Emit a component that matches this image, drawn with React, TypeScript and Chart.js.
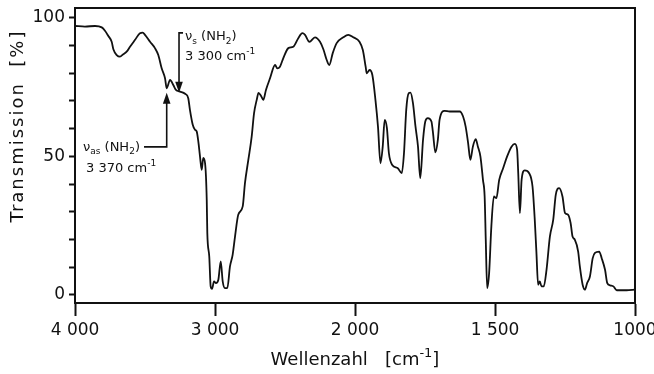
import React, { useEffect, useRef } from 'react';
import { Chart, registerables, LinearScale } from 'chart.js';

Chart.register(...registerables);

// ---- data ----
const WAVENUMBERS = [
  4000, 3929, 3857, 3809, 3786, 3762, 3738, 3726, 3702, 3679,
  3655, 3631, 3607, 3571, 3536, 3516, 3500, 3464, 3429, 3405,
  3381, 3357, 3345, 3321, 3298, 3279, 3250, 3214, 3191, 3179,
  3159, 3143, 3131, 3119, 3107, 3095, 3084, 3071, 3059, 3055,
  3041, 3031, 3021, 3007, 2993, 2976, 2959, 2945, 2929, 2912,
  2893, 2874, 2857, 2834, 2802, 2786, 2762, 2738, 2721, 2702,
  2689, 2671, 2655, 2636, 2607, 2571, 2555, 2536, 2512, 2476,
  2441, 2405, 2376, 2357, 2326, 2286, 2250, 2226, 2202, 2184,
  2159, 2131, 2084, 2048, 2012, 1984, 1972, 1962, 1958, 1948,
  1938, 1927, 1918, 1909, 1901, 1894, 1886, 1879, 1867, 1847,
  1833, 1825, 1817, 1808, 1802, 1793, 1784, 1775, 1767, 1757,
  1749, 1740, 1727, 1722, 1713, 1704, 1698, 1680, 1662, 1626,
  1614, 1605, 1596, 1588, 1579, 1569, 1561, 1552, 1543, 1537,
  1533, 1528, 1521, 1513, 1504, 1495, 1485, 1471, 1457, 1441,
  1429, 1421, 1417, 1411, 1405, 1394, 1378, 1366, 1358, 1352,
  1346, 1340, 1334, 1326, 1316, 1304, 1292, 1283, 1271, 1259,
  1250, 1239, 1230, 1223, 1215, 1203, 1197, 1187, 1179, 1171,
  1161, 1151, 1143, 1128, 1119, 1107, 1099, 1089, 1077, 1065,
  1030, 1000,
];

const TRANSMISSION = [
  97.1, 96.9, 97.1, 96.6, 95.4, 93.5, 91.4, 88.7, 86.6, 86.0,
  86.9, 87.8, 89.6, 92.1, 94.5, 94.7, 93.9, 91.4, 89.1, 86.6,
  81.8, 78.2, 74.6, 77.6, 75.8, 74.0, 73.4, 72.6, 71.0, 66.8,
  61.4, 59.6, 59.0, 55.3, 49.9, 45.1, 49.4, 47.5, 34.3, 22.4,
  13.8, 3.0, 2.1, 4.8, 4.2, 5.4, 12.0, 4.8, 2.4, 2.4,
  10.2, 14.4, 21.0, 28.9, 31.9, 40.3, 48.7, 57.1, 65.6, 70.4,
  72.9, 71.8, 70.4, 74.0, 78.2, 83.0, 81.8, 82.4, 85.5, 89.1,
  89.6, 92.7, 94.5, 93.9, 91.4, 93.0, 91.4, 88.7, 84.8, 83.0,
  87.3, 90.9, 93.0, 93.9, 93.0, 91.4, 88.4, 82.4, 80.0, 81.2,
  79.4, 70.4, 60.8, 47.5, 53.5, 63.2, 60.2, 51.2, 46.9, 45.7,
  43.9, 51.2, 66.8, 72.8, 73.0, 69.2, 60.8, 53.5, 42.1, 56.0,
  62.6, 63.8, 62.6, 59.0, 51.4, 56.0, 63.2, 66.4, 66.2, 66.2,
  64.4, 60.8, 54.8, 48.7, 53.5, 56.2, 53.5, 49.9, 41.5, 35.5,
  19.9, 2.4, 7.8, 24.7, 35.5, 34.9, 41.5, 45.7, 49.9, 53.5,
  54.5, 52.3, 43.9, 29.5, 41.5, 44.9, 43.9, 39.1, 27.1, 15.1,
  3.6, 4.8, 3.0, 3.0, 9.0, 21.0, 27.1, 36.1, 38.5, 35.5,
  29.5, 28.9, 25.9, 21.0, 19.9, 15.6, 10.2, 3.6, 1.8, 4.2,
  6.6, 13.2, 15.1, 15.6, 13.2, 9.0, 4.2, 3.4, 3.0, 1.6,
  1.6, 1.8,
];

const X_TICKS = [4000, 3000, 2000, 1500, 1000];
const X_TICK_LABELS = ['4 000', '3 000', '2 000', '1 500', '1000'];
const X_BREAK = 2000; // scale changes at 2000 cm-1
const Y_TICKS = [0, 10, 20, 30, 40, 50, 60, 70, 80, 90, 100];
const Y_TICK_LABELS = ['0', '', '', '', '', '50', '', '', '', '', '100'];

const X_TITLE = 'Wellenzahl';
const Y_TITLE = 'Transmission  [%]';

// annotation anchors in data units (wavenumber, transmission)
const NU_S = { arrowW: 3257, topT: 94.6, tipT: 73.0, textW: 3214, line1T: 93.1, line2T: 85.9, value: '3 300 cm' };
const NU_AS = { arrowW: 3345, tipT: 73.0, bottomT: 53.4, leaderW: 3507, textW: 3943, line1T: 53.1, line2T: 45.5, value: '3 370 cm' };

const INK = '#111111';
const FONT = "'DejaVu Sans', sans-serif";

// ---- custom scale: linear with a 2:1 compression above the break ----
class SplitWavenumberScale extends LinearScale {
  static id = 'splitWavenumber';
  static defaults = LinearScale.defaults;
  toDecimal(v: number) {
    const min = this.min, max = this.max;
    if (v <= X_BREAK) return 0.5 * (v - min) / (X_BREAK - min);
    return 0.5 + 0.5 * (v - X_BREAK) / (max - X_BREAK);
  }
  getPixelForValue(v: any) {
    if (v === null || v === undefined || isNaN(v)) return NaN;
    return this.getPixelForDecimal(this.toDecimal(+v));
  }
  getValueForPixel(px: number) {
    const d = this.getDecimalForPixel(px);
    const min = this.min, max = this.max;
    return d <= 0.5 ? min + (d / 0.5) * (X_BREAK - min) : X_BREAK + ((d - 0.5) / 0.5) * (max - X_BREAK);
  }
}
Chart.register(SplitWavenumberScale as any);

type Run = { t: string; s?: 'sub' | 'sup' };

function runFont(size: number, r: Run) {
  const sz = r.s ? Math.round(size * 0.72) : size;
  return `${sz}px ${FONT}`;
}
function richWidth(ctx: CanvasRenderingContext2D, runs: Run[], size: number) {
  let w = 0;
  for (const r of runs) {
    ctx.font = runFont(size, r);
    w += ctx.measureText(r.t).width;
  }
  return w;
}
function drawRich(ctx: CanvasRenderingContext2D, runs: Run[], x: number, y: number, size: number, align: 'left' | 'center' = 'left') {
  let cx = align === 'center' ? x - richWidth(ctx, runs, size) / 2 : x;
  ctx.textAlign = 'left';
  ctx.textBaseline = 'middle';
  for (const r of runs) {
    ctx.font = runFont(size, r);
    const dy = r.s === 'sub' ? size * 0.32 : r.s === 'sup' ? -size * 0.38 : 0;
    ctx.fillText(r.t, cx, y + dy);
    cx += ctx.measureText(r.t).width;
  }
}
function arrowHead(ctx: CanvasRenderingContext2D, x: number, tipY: number, dir: 1 | -1) {
  // dir 1: pointing down, -1: pointing up
  const len = 11, half = 3.8;
  ctx.beginPath();
  ctx.moveTo(x, tipY);
  ctx.lineTo(x - half, tipY - dir * len);
  ctx.lineTo(x + half, tipY - dir * len);
  ctx.closePath();
  ctx.fill();
}

const decorPlugin = {
  id: 'decor',
  afterDraw(chart: any) {
    const { ctx, chartArea: a, scales } = chart;
    const xs = scales.x, ys = scales.y;
    ctx.save();
    ctx.strokeStyle = INK;
    ctx.fillStyle = INK;
    ctx.lineWidth = 2;
    // frame top + right
    ctx.beginPath();
    ctx.moveTo(a.left, a.top);
    ctx.lineTo(a.right, a.top);
    ctx.lineTo(a.right, a.bottom);
    ctx.stroke();

    // nu_s annotation
    ctx.lineWidth = 1.6;
    {
      const x = xs.getPixelForValue(NU_S.arrowW);
      const yTop = ys.getPixelForValue(NU_S.topT);
      const yTip = ys.getPixelForValue(NU_S.tipT);
      ctx.beginPath();
      ctx.moveTo(x + 4, yTop);
      ctx.lineTo(x, yTop);
      ctx.lineTo(x, yTip - 8);
      ctx.stroke();
      arrowHead(ctx, x, yTip, 1);
      const tx = xs.getPixelForValue(NU_S.textW);
      drawRich(ctx, [{ t: 'ν' }, { t: 's', s: 'sub' }, { t: ' (NH' }, { t: '2', s: 'sub' }, { t: ')' }], tx, ys.getPixelForValue(NU_S.line1T), 13);
      drawRich(ctx, [{ t: NU_S.value }, { t: '-1', s: 'sup' }], tx, ys.getPixelForValue(NU_S.line2T), 13);
    }
    // nu_as annotation
    {
      const x = xs.getPixelForValue(NU_AS.arrowW);
      const yTip = ys.getPixelForValue(NU_AS.tipT);
      const yBot = ys.getPixelForValue(NU_AS.bottomT);
      const xl = xs.getPixelForValue(NU_AS.leaderW);
      ctx.beginPath();
      ctx.moveTo(xl, yBot);
      ctx.lineTo(x, yBot);
      ctx.lineTo(x, yTip + 8);
      ctx.stroke();
      arrowHead(ctx, x, yTip, -1);
      const tx = xs.getPixelForValue(NU_AS.textW);
      drawRich(ctx, [{ t: 'ν' }, { t: 'as', s: 'sub' }, { t: ' (NH' }, { t: '2', s: 'sub' }, { t: ')' }], tx, ys.getPixelForValue(NU_AS.line1T), 13);
      drawRich(ctx, [{ t: NU_AS.value }, { t: '-1', s: 'sup' }], tx + 3, ys.getPixelForValue(NU_AS.line2T), 13);
    }

    // axis titles
    drawRich(ctx, [{ t: X_TITLE + '   [cm' }, { t: '-1', s: 'sup' }, { t: ']' }], (a.left + a.right) / 2, a.bottom + 57, 18, 'center');

    ctx.save();
    ctx.translate(18, a.top + (a.bottom - a.top) * 0.4);
    ctx.rotate(-Math.PI / 2);
    try { (ctx as any).letterSpacing = '2px'; } catch (e) { /* ignore */ }
    drawRich(ctx, [{ t: Y_TITLE }], 0, 0, 18, 'center');
    ctx.restore();

    ctx.restore();
  },
};

export default function App() {
  const canvasRef = useRef<HTMLCanvasElement | null>(null);

  useEffect(() => {
    if (!canvasRef.current) return;
    const tickFont = { family: FONT, size: 17 };
    const chart = new Chart(canvasRef.current, {
      type: 'line',
      data: {
        datasets: [
          {
            data: WAVENUMBERS.map((w, i) => ({ x: w, y: TRANSMISSION[i] })),
            borderColor: INK,
            borderWidth: 1.8,
            pointRadius: 0,
            fill: false,
            cubicInterpolationMode: 'monotone',
          },
        ],
      },
      options: {
        animation: false,
        responsive: true,
        maintainAspectRatio: false,
        layout: { padding: { left: 0, top: 8, right: 19, bottom: 0 } },
        plugins: { legend: { display: false }, tooltip: { enabled: false } },
        scales: {
          x: {
            type: 'splitWavenumber' as any,
            min: 1000,
            max: 4000,
            reverse: true,
            afterBuildTicks: (s: any) => { s.ticks = X_TICKS.map((v) => ({ value: v })); },
            afterFit: (s: any) => { s.height = 71; s.paddingLeft = 0; s.paddingRight = 0; },
            ticks: {
              autoSkip: false,
              maxRotation: 0,
              padding: 4,
              color: INK,
              font: tickFont,
              callback: (_v: any, i: number) => X_TICK_LABELS[i],
            },
            grid: { drawOnChartArea: false, drawTicks: true, tickLength: 13, tickWidth: 2, tickColor: INK },
            border: { display: true, color: INK, width: 2 },
          },
          y: {
            type: 'linear',
            min: -3,
            max: 103.6,
            afterBuildTicks: (s: any) => { s.ticks = Y_TICKS.map((v) => ({ value: v })); },
            afterFit: (s: any) => { s.width = 75; s.paddingTop = 0; s.paddingBottom = 0; },
            ticks: {
              autoSkip: false,
              padding: 4,
              color: INK,
              font: tickFont,
              callback: (_v: any, i: number) => Y_TICK_LABELS[i],
            },
            grid: { drawOnChartArea: false, drawTicks: true, tickLength: 6, tickWidth: 2, tickColor: INK },
            border: { display: true, color: INK, width: 2 },
          },
        },
      },
      plugins: [decorPlugin],
    } as any);
    return () => chart.destroy();
  }, []);

  return (
    <div style={{ position: 'fixed', left: 0, top: 0, width: 654, height: 374, background: '#fff' }}>
      <canvas ref={canvasRef} />
    </div>
  );
}
